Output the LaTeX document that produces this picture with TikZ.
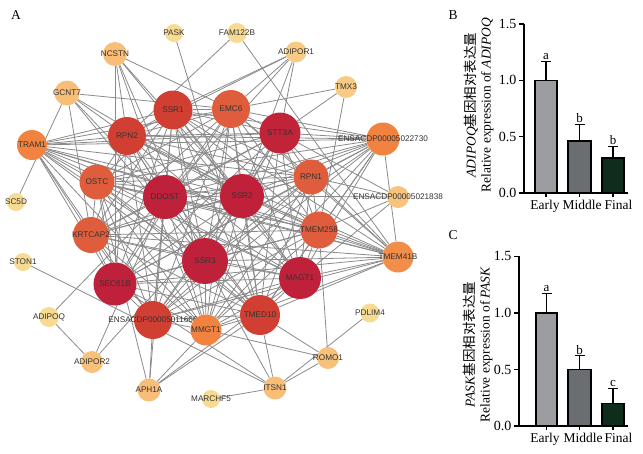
\documentclass[tikz,border=0pt]{standalone}
\usepackage{fontspec}
\setmainfont{Liberation Serif}
\newfontfamily\genefont{Liberation Sans}
\newfontfamily\cjk{Noto Sans CJK SC}
\usetikzlibrary{backgrounds}

\definecolor{hubA}{HTML}{C0213A}
\definecolor{hubB}{HTML}{D13F33}
\definecolor{hubC}{HTML}{DF5D3C}
\definecolor{hubD}{HTML}{F2823F}
\definecolor{hubE}{HTML}{F8BD77}
\definecolor{hubF}{HTML}{F7DB93}
\definecolor{edgegray}{HTML}{8A8A8A}
\definecolor{genegray}{HTML}{333333}
\definecolor{earlybar}{HTML}{9C9DA1}
\definecolor{middlebar}{HTML}{6A6E72}
\definecolor{finalbar}{HTML}{0F2D1D}

\tikzset{
  gene/.style={circle, inner sep=0pt, draw=none, minimum size=#1},
  genetext/.style={font=\genefont\fontsize{8.2}{9}\selectfont, text=genegray, inner sep=0pt},
  edge/.style={draw=edgegray, line width=0.8pt},
  bar/.style={draw=black, line width=1.6pt},
  err/.style={draw=black, line width=1.1pt},
  axis/.style={draw=black, line width=1.2pt},
  sig/.style={font=\fontsize{13}{14}\selectfont, inner sep=1.5pt, anchor=south},
  ticktext/.style={font=\fontsize{13.5}{15}\selectfont},
  numtext/.style={font=\fontsize{14}{15}\selectfont}
}

\begin{document}
\begin{tikzpicture}[x=1pt, y=-1pt]
  \useasboundingbox (0,0) rectangle (643,453);
  % Panel labels
  \node[font=\fontsize{13.5}{15}\selectfont] (labA) at (16,15) {A};
  \node[font=\fontsize{13.5}{15}\selectfont] (labB) at (453,15) {B};
  \node[font=\fontsize{13.5}{15}\selectfont] (labC) at (453,235) {C};

  % Genes
  \node[gene=44, fill=hubA, label={[genetext]center:DDOST}] (DDOST) at (165,197) {};
  \node[gene=44, fill=hubA, label={[genetext]center:SSR2}] (SSR2) at (242,196) {};
  \node[gene=46, fill=hubA, label={[genetext]center:SSR3}] (SSR3) at (205,261) {};
  \node[gene=43, fill=hubA, label={[genetext]center:SEC61B}] (SEC61B) at (115,284) {};
  \node[gene=42, fill=hubA, label={[genetext]center:MAGT1}] (MAGT1) at (300,278) {};
  \node[gene=41, fill=hubA!92!hubB, label={[genetext]center:STT3A}] (STT3A) at (280,133) {};
  \node[gene=38, fill=hubB, label={[genetext]center:RPN2}] (RPN2) at (127,136) {};
  \node[gene=39, fill=hubB, label={[genetext]center:SSR1}] (SSR1) at (173,110) {};
  \node[gene=40, fill=hubB, label={[genetext]center:TMED10}] (TMED10) at (260,315) {};
  \node[gene=38, fill=hubB, label={[genetext]center:ENSACDP00005011666}] (E11666) at (153,320) {};
  \node[gene=38, fill=hubC, label={[genetext]center:EMC6}] (EMC6) at (231,109) {};
  \node[gene=35, fill=hubC, label={[genetext]center:RPN1}] (RPN1) at (311,177) {};
  \node[gene=35, fill=hubC, label={[genetext]center:OSTC}] (OSTC) at (97,182) {};
  \node[gene=36, fill=hubC, label={[genetext]center:KRTCAP2}] (KRTCAP2) at (91,235) {};
  \node[gene=37, fill=hubC, label={[genetext]center:TMEM258}] (TMEM258) at (319,230) {};
  \node[gene=30, fill=hubD, label={[genetext]center:TRAM1}] (TRAM1) at (32,145) {};
  \node[gene=33, fill=hubD, label={[genetext]center:ENSACDP00005022730}] (E22730) at (383,139) {};
  \node[gene=31, fill=hubD, label={[genetext]center:MMGT1}] (MMGT1) at (206,330) {};
  \node[gene=31, fill=hubD!80!hubE, label={[genetext]center:TMEM41B}] (TMEM41B) at (398,257) {};
  \node[gene=24, fill=hubE, label={[genetext]center:NCSTN}] (NCSTN) at (115,54) {};
  \node[gene=25, fill=hubE, label={[genetext]center:GCNT7}] (GCNT7) at (67,93) {};
  \node[gene=23, fill=hubE, label={[genetext]center:APH1A}] (APH1A) at (149,390) {};
  \node[gene=23, fill=hubE, label={[genetext]center:ITSN1}] (ITSN1) at (275,388) {};
  \node[gene=22, fill=hubE!85!hubF, label={[genetext]center:ADIPOR2}] (ADIPOR2) at (92,362) {};
  \node[gene=22, fill=hubE!85!hubF, label={[genetext]center:ROMO1}] (ROMO1) at (328,358) {};
  \node[gene=22, fill=hubE!80!hubF, label={[genetext]center:ENSACDP00005021838}] (E21838) at (398,197) {};
  \node[gene=21, fill=hubE!55!hubF, label={[genetext]center:ADIPOR1}] (ADIPOR1) at (296,52) {};
  \node[gene=22, fill=hubE!55!hubF, label={[genetext]center:TMX3}] (TMX3) at (346,87) {};
  \node[gene=20, fill=hubF, label={[genetext]center:FAM122B}] (FAM122B) at (237,33) {};
  \node[gene=18, fill=hubF, label={[genetext]center:PASK}] (PASK) at (174,33) {};
  \node[gene=18, fill=hubF, label={[genetext]center:SC5D}] (SC5D) at (16,202) {};
  \node[gene=18, fill=hubF, label={[genetext]center:STON1}] (STON1) at (23,262) {};
  \node[gene=20, fill=hubF, label={[genetext]center:ADIPOQ}] (ADIPOQ) at (49,317) {};
  \node[gene=19, fill=hubF, label={[genetext]center:PDLIM4}] (PDLIM4) at (370,313) {};
  \node[gene=18, fill=hubF, label={[genetext]center:MARCHF5}] (MARCHF5) at (211,399) {};

  % Interactions
  \begin{pgfonlayer}{background}
    \foreach \a [count=\i] in {DDOST,SSR2,SSR3,SEC61B,MAGT1,STT3A,RPN2,SSR1,TMED10,E11666,EMC6,RPN1,OSTC,KRTCAP2,TMEM258,TRAM1,E22730,MMGT1,TMEM41B}
      \foreach \b [count=\j] in {DDOST,SSR2,SSR3,SEC61B,MAGT1,STT3A,RPN2,SSR1,TMED10,E11666,EMC6,RPN1,OSTC,KRTCAP2,TMEM258,TRAM1,E22730,MMGT1,TMEM41B}
        {\ifnum\j>\i \draw[edge] (\a) -- (\b);\fi}
    \foreach \a/\b in {PASK/TMED10, FAM122B/TMEM41B, FAM122B/RPN2,
        NCSTN/EMC6, NCSTN/RPN2, NCSTN/DDOST, NCSTN/SSR2, NCSTN/SSR3, NCSTN/SEC61B, NCSTN/MAGT1,
        GCNT7/EMC6, GCNT7/RPN2, GCNT7/DDOST, GCNT7/KRTCAP2, GCNT7/SSR3, GCNT7/SSR2, SC5D/GCNT7,
        ADIPOR1/EMC6, ADIPOR1/SSR1, ADIPOR1/RPN2, ADIPOR1/DDOST, ADIPOR1/SSR2, ADIPOR1/STT3A,
        TMX3/EMC6, TMX3/STT3A, TMX3/TMEM258,
        STON1/ITSN1, ADIPOQ/ADIPOR2, ADIPOQ/DDOST, ADIPOR2/DDOST, ADIPOR2/SSR2,
        APH1A/OSTC, APH1A/DDOST, APH1A/MMGT1, APH1A/TMED10, APH1A/MAGT1, APH1A/E11666,
        ITSN1/TMED10, ITSN1/SSR3, ITSN1/MARCHF5, ITSN1/ROMO1, ITSN1/PDLIM4, ITSN1/SEC61B,
        ROMO1/TMED10, ROMO1/TMEM258, ROMO1/MMGT1,
        E21838/SSR2, E21838/RPN1, E21838/STT3A, E21838/MAGT1, E21838/TMEM258}
      \draw[edge] (\a) -- (\b);
  \end{pgfonlayer}

  % Chart B
  \begin{scope}[shift={(524,193)}, x=1pt, y=112.7pt]
    \draw[bar, fill=earlybar] (11,0) rectangle (33,1.0);
    \draw[bar, fill=middlebar] (44,0) rectangle (67,0.46);
    \draw[bar, fill=finalbar] (78,0) rectangle (100,0.31);
    \draw[err] (22,1.0) -- (22,1.17) (17,1.17) -- (27,1.17);
    \draw[err] (55.5,0.46) -- (55.5,0.61) (50.5,0.61) -- (60.5,0.61);
    \draw[err] (89,0.31) -- (89,0.41) (84,0.41) -- (94,0.41);
    \node[sig] (sigBa) at (22,1.17) {a};
    \node[sig] (sigBb) at (55.5,0.61) {b};
    \node[sig] (sigBc) at (89,0.41) {b};
    \draw[axis] (0,1.5) -- (0,0) -- (104,0);
    \foreach \v in {0.0,0.5,1.0,1.5}
      \draw[axis] (0,\v) -- (-5,\v) node[numtext, left, inner sep=2pt] {\v};
    \foreach \xc in {22,55.5,89}
      \draw[axis] (\xc,0) -- ++(0pt,-4pt);
    \foreach \lx/\name in {21/Early,58/Middle,94.5/Final}
      \node[ticktext, anchor=north, inner sep=0pt] at (\lx,-0.06) {\name};
    \node[ticktext, rotate=90, align=center] (ylabB) at (-45,0.78) {\textit{ADIPOQ}{\cjk 基因相对表达量}\\Relative expression of \textit{ADIPOQ}};
  \end{scope}

  % Chart C
  \begin{scope}[shift={(519,426)}, x=1pt, y=113.1pt]
    \draw[bar, fill=earlybar] (17,0) rectangle (38,1.0);
    \draw[bar, fill=middlebar] (49,0) rectangle (72,0.5);
    \draw[bar, fill=finalbar] (83,0) rectangle (105,0.2);
    \draw[err] (27.5,1.0) -- (27.5,1.17) (22.5,1.17) -- (32.5,1.17);
    \draw[err] (60.5,0.5) -- (60.5,0.62) (55.5,0.62) -- (65.5,0.62);
    \draw[err] (94,0.2) -- (94,0.33) (89,0.33) -- (99,0.33);
    \node[sig] (sigCa) at (27.5,1.17) {a};
    \node[sig] (sigCb) at (60.5,0.62) {b};
    \node[sig] (sigCc) at (94,0.33) {c};
    \draw[axis] (0,1.5) -- (0,0) -- (109,0);
    \foreach \v in {0.0,0.5,1.0,1.5}
      \draw[axis] (0,\v) -- (-5,\v) node[numtext, left, inner sep=2pt] {\v};
    \foreach \xc in {27.5,60.5,94}
      \draw[axis] (\xc,0) -- ++(0pt,-4pt);
    \foreach \lx/\name in {26/Early,64/Middle,99.5/Final}
      \node[ticktext, anchor=north, inner sep=0pt] at (\lx,-0.06) {\name};
    \node[ticktext, rotate=90, align=center] (ylabC) at (-41,0.72) {\textit{PASK}{\cjk 基因相对表达量}\\Relative expression of \textit{PASK}};
  \end{scope}
\end{tikzpicture}
\end{document}
